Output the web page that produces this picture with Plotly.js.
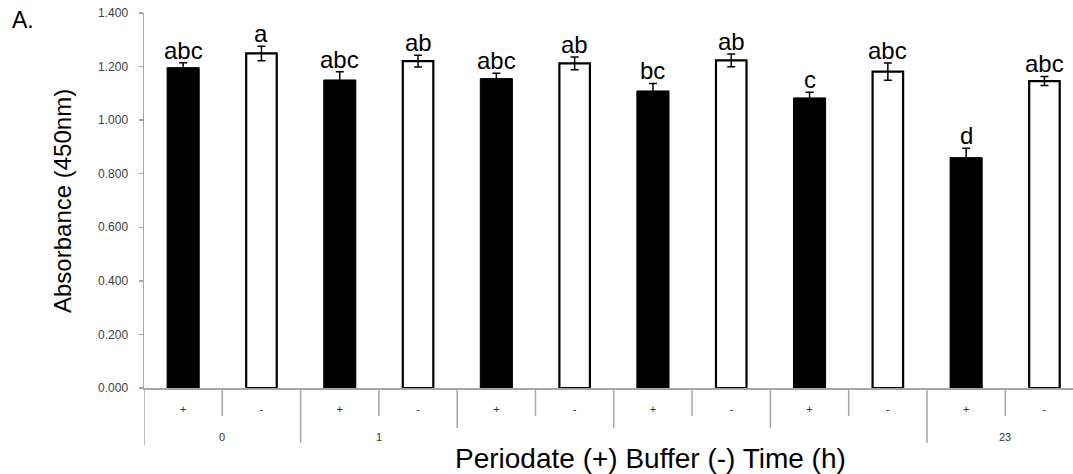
<!DOCTYPE html>
<html>
<head>
<meta charset="utf-8">
<script src="https://cdn.plot.ly/plotly-3.0.1.min.js"></script>
<style>html,body{margin:0;padding:0;background:#fff;}#chart{width:1073px;height:474px;}</style>
</head>
<body>
<div id="chart"></div>
<script>
// ---- data ----
const groupLabels = ["0", "1", "", "", "", "23"];
const treatments = ["+", "-"];
const means = [1.196, 1.249, 1.150, 1.220, 1.155, 1.212, 1.109, 1.223, 1.083, 1.181, 0.860, 1.146];
const errors = [0.018, 0.027, 0.031, 0.022, 0.020, 0.024, 0.028, 0.024, 0.021, 0.032, 0.035, 0.017];
const letters = ["abc", "a", "abc", "ab", "abc", "ab", "bc", "ab", "c", "abc", "d", "abc"];
const yTicks = [0, 0.2, 0.4, 0.6, 0.8, 1.0, 1.2, 1.4];

// ---- build ----
const FONT = 'Liberation Sans, Arial, sans-serif';
const L = 144, T = 13, PW = 929, PH = 375;
const idx = means.map((_, i) => i);
const tickText = idx.map(i => treatments[i % 2]);
const plusIdx = idx.filter(i => i % 2 === 0);
const minusIdx = idx.filter(i => i % 2 === 1);

const traces = [
  {
    type: 'bar', x: plusIdx, y: plusIdx.map(i => means[i]), width: 0.41,
    marker: {color: '#000', line: {color: '#000', width: 1}},
    error_y: {type: 'data', array: plusIdx.map(i => errors[i]), visible: true, color: '#000', thickness: 1.5, width: 4},
    hoverinfo: 'y', showlegend: false
  },
  {
    type: 'bar', x: minusIdx, y: minusIdx.map(i => means[i]), width: 0.39,
    marker: {color: '#fff', line: {color: '#000', width: 2.2}},
    error_y: {type: 'data', array: minusIdx.map(i => errors[i]), visible: true, color: '#000', thickness: 1.5, width: 4},
    hoverinfo: 'y', showlegend: false
  }
];

const annotations = idx.map(i => ({
  x: i, y: means[i] + errors[i], xref: 'x', yref: 'y', text: letters[i], showarrow: false,
  yanchor: 'bottom', yshift: -3, font: {family: FONT, size: 24, color: '#000'}
}));

const py = px => -px / PH; // pixels below axis -> paper
const pxX = px => (px - L) / PW;
const pxY = px => (L && (T + PH - px) / PH);
const grey = '#a6a6a6';
const shapes = [];
shapes.push({type: 'line', xref: 'x', yref: 'paper', x0: -0.5, x1: -0.5, y0: 0, y1: py(57), line: {color: grey, width: 1.5}});
groupLabels.forEach((g, gi) => {
  const xm = gi * 2 + 0.5;
  shapes.push({type: 'line', xref: 'x', yref: 'paper', x0: xm, x1: xm, y0: 0, y1: py(28), line: {color: grey, width: 1.5}});
  if (gi > 0) {
    const xb = gi * 2 - 0.5;
    const depth = groupLabels[gi] === "" ? 40 : 55;
    shapes.push({type: 'line', xref: 'x', yref: 'paper', x0: xb, x1: xb, y0: 0, y1: py(depth), line: {color: grey, width: 1.5}});
  }
  if (g !== "") {
    annotations.push({x: gi * 2 + 0.5, y: py(49), xref: 'x', yref: 'paper', text: g, showarrow: false,
      yanchor: 'middle', font: {family: FONT, size: 11, color: '#333'}});
  }
});

annotations.push({
  x: pxX(23), y: pxY(20), xref: 'paper', yref: 'paper', text: 'A.', showarrow: false,
  xanchor: 'center', yanchor: 'middle', font: {family: FONT, size: 23, color: '#000'}
});
annotations.push({
  x: pxX(650), y: pxY(458), xref: 'paper', yref: 'paper', text: 'Periodate (+) Buffer (-) Time (h)', showarrow: false,
  xanchor: 'center', yanchor: 'middle', font: {family: FONT, size: 28, color: '#000'}
});
annotations.push({
  x: pxX(62), y: pxY(201), xref: 'paper', yref: 'paper', text: 'Absorbance (450nm)', showarrow: false, textangle: -90,
  xanchor: 'center', yanchor: 'middle', font: {family: FONT, size: 24, color: '#000'}
});

const layout = {
  width: 1073, height: 474,
  margin: {l: L, r: 0, t: T, b: 474 - T - PH, pad: 0},
  paper_bgcolor: '#fff', plot_bgcolor: '#fff',
  bargap: 0,
  xaxis: {
    range: [-0.5, -0.5 + PW / 78.3], tickmode: 'array', tickvals: idx, ticktext: tickText,
    showline: true, linecolor: grey, linewidth: 1.5, showgrid: false, zeroline: false, ticks: '',
    ticklabelstandoff: 10,
    tickfont: {family: FONT, size: 11, color: '#333'}, fixedrange: true
  },
  yaxis: {
    range: [0, 1.4], tickmode: 'array', tickvals: yTicks, tickformat: '.3f',
    showline: true, linecolor: grey, linewidth: 1.5, showgrid: false, zeroline: false,
    ticks: 'outside', ticklen: 4, tickcolor: grey, tickwidth: 1.5, ticklabelstandoff: 8,
    tickfont: {family: FONT, size: 12, color: '#404040'},
    fixedrange: true
  },
  shapes: shapes,
  annotations: annotations
};

Plotly.newPlot('chart', traces, layout, {displayModeBar: false, staticPlot: true});
</script>
</body>
</html>
